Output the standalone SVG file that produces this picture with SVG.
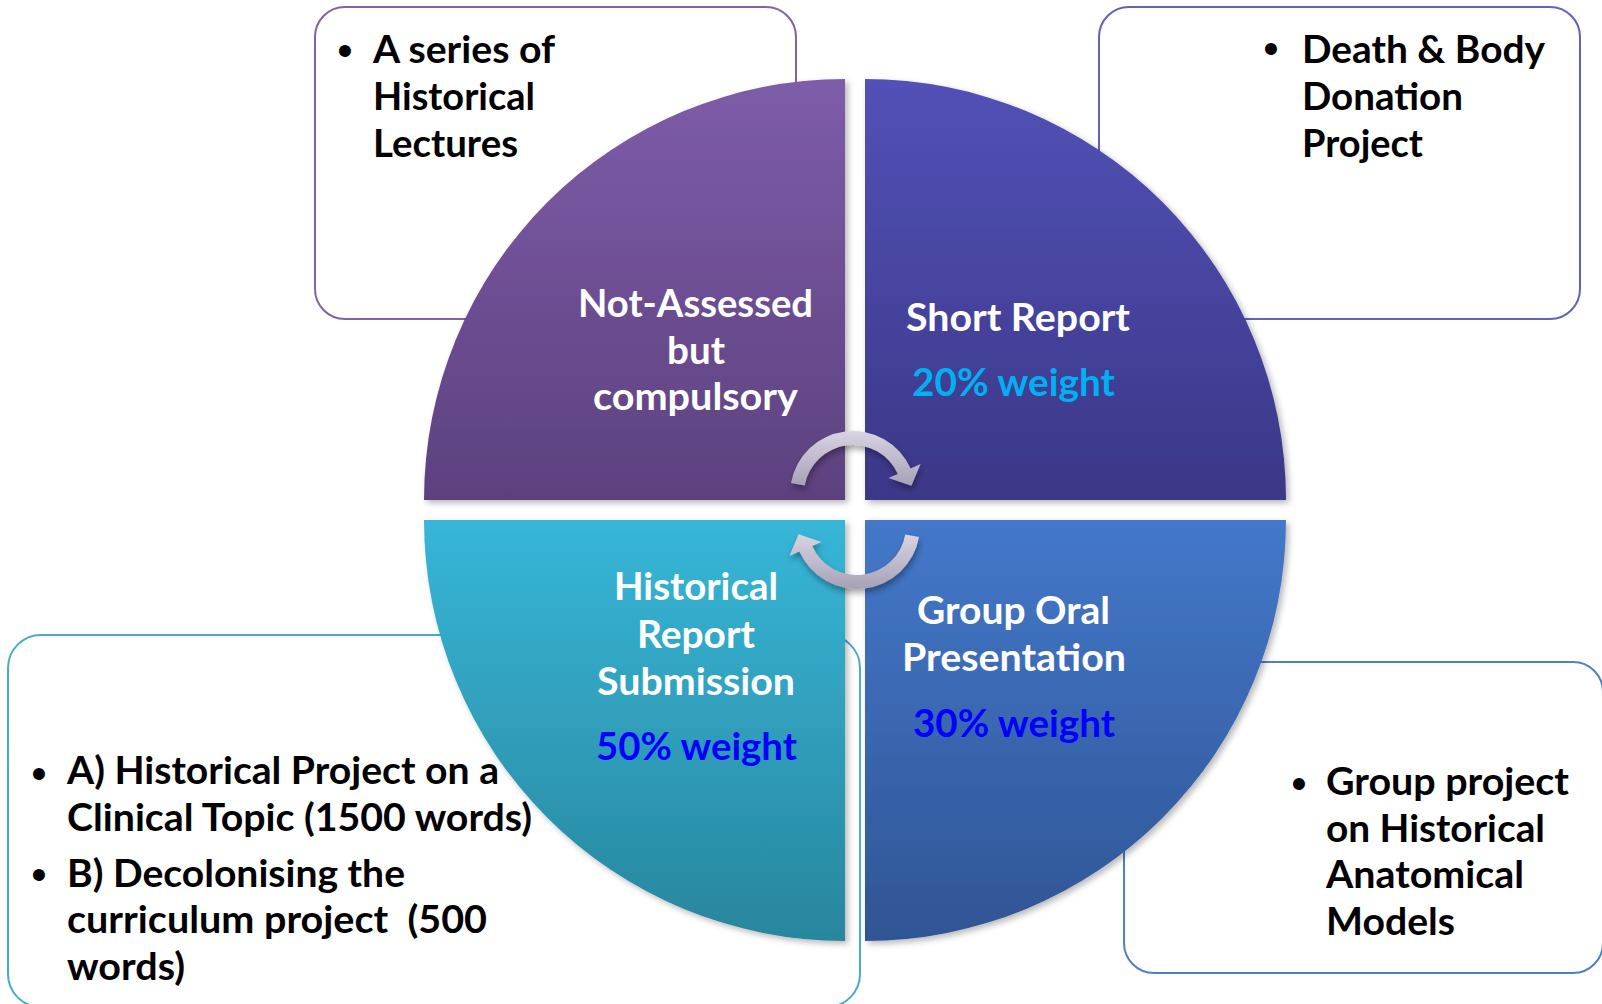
<svg xmlns="http://www.w3.org/2000/svg" width="1602" height="1004" viewBox="0 0 1602 1004">
<defs>
<style>
.box{fill:#ffffff;stroke-width:2}
.t{font-family:Lato,"Open Sans","Liberation Sans",sans-serif;font-weight:700;font-size:38.5px}
.blk{fill:#000000}
.wht{fill:#ffffff}
.cyan{fill:#00B0F0}
.blue{fill:#0000FF}
.bul{font-family:"Liberation Sans",Arial,sans-serif;font-size:44px;fill:#000000;text-anchor:middle}
</style>
<linearGradient id="gTL" x1="0" y1="0" x2="0" y2="1"><stop offset="0" stop-color="#7E5CA9"/><stop offset="1" stop-color="#5C417E"/></linearGradient>
<linearGradient id="gTR" x1="0" y1="0" x2="0" y2="1"><stop offset="0" stop-color="#5251B7"/><stop offset="1" stop-color="#3B3787"/></linearGradient>
<linearGradient id="gBL" x1="0" y1="0" x2="0" y2="1"><stop offset="0" stop-color="#37B6D8"/><stop offset="1" stop-color="#28869D"/></linearGradient>
<linearGradient id="gBR" x1="0" y1="0" x2="0" y2="1"><stop offset="0" stop-color="#4478CA"/><stop offset="1" stop-color="#2F5594"/></linearGradient>
<linearGradient id="gArr" x1="0" y1="0" x2="0" y2="1"><stop offset="0" stop-color="#D8D4E3"/><stop offset="1" stop-color="#A7A1B6"/></linearGradient>
<filter id="sh" x="-10%" y="-10%" width="125%" height="125%"><feDropShadow dx="3" dy="3" stdDeviation="3" flood-color="#000" flood-opacity="0.28"/></filter>
<filter id="ash" x="-20%" y="-20%" width="150%" height="160%"><feDropShadow dx="1" dy="4" stdDeviation="3" flood-color="#000" flood-opacity="0.35"/></filter>
</defs>

<g id="box-lectures">
<rect class="box" x="315" y="7" width="481" height="312" rx="30" stroke="#8064A2"/>
<text class="bul" x="345" y="66">•</text>
<text class="t blk" x="373" y="63" textLength="182" lengthAdjust="spacingAndGlyphs">A series of</text>
<text class="t blk" x="373" y="110" textLength="162" lengthAdjust="spacingAndGlyphs">Historical</text>
<text class="t blk" x="373" y="157" textLength="145" lengthAdjust="spacingAndGlyphs">Lectures</text>
</g>

<g id="box-death">
<rect class="box" x="1099" y="7" width="481" height="312" rx="30" stroke="#6262B8"/>
<text class="bul" x="1271" y="64">•</text>
<text class="t blk" x="1302" y="63" textLength="243" lengthAdjust="spacingAndGlyphs">Death &amp; Body</text>
<text class="t blk" x="1302" y="110" textLength="161" lengthAdjust="spacingAndGlyphs">Donation</text>
<text class="t blk" x="1302" y="157" textLength="121" lengthAdjust="spacingAndGlyphs">Project</text>
</g>

<g id="box-historical">
<rect class="box" x="8" y="635" width="852" height="372" rx="33" stroke="#4BACC6"/>
<text class="bul" x="39" y="789">•</text>
<text class="t blk" x="67" y="784" textLength="432" lengthAdjust="spacingAndGlyphs">A) Historical Project on a</text>
<text class="t blk" x="67" y="831" textLength="465" lengthAdjust="spacingAndGlyphs">Clinical Topic (1500 words)</text>
<text class="bul" x="39" y="890">•</text>
<text class="t blk" x="67" y="887" textLength="338" lengthAdjust="spacingAndGlyphs">B) Decolonising the</text>
<text class="t blk" x="67" y="933" textLength="420" lengthAdjust="spacingAndGlyphs" xml:space="preserve">curriculum project  (500</text>
<text class="t blk" x="67" y="980" textLength="118" lengthAdjust="spacingAndGlyphs">words)</text>
</g>

<g id="box-models">
<rect class="box" x="1124" y="662" width="479" height="311" rx="30" stroke="#4F7FC4"/>
<text class="bul" x="1299" y="799">•</text>
<text class="t blk" x="1326" y="795" textLength="243" lengthAdjust="spacingAndGlyphs">Group project</text>
<text class="t blk" x="1326" y="842" textLength="219" lengthAdjust="spacingAndGlyphs">on Historical</text>
<text class="t blk" x="1326" y="888" textLength="198" lengthAdjust="spacingAndGlyphs">Anatomical</text>
<text class="t blk" x="1326" y="935" textLength="129" lengthAdjust="spacingAndGlyphs">Models</text>
</g>

<g id="q-not-assessed">
<path d="M845,500 L424,500 A421,421 0 0 1 845,79 Z" fill="url(#gTL)" filter="url(#sh)"/>
<text class="t wht" x="578" y="317" textLength="235" lengthAdjust="spacingAndGlyphs">Not-Assessed</text>
<text class="t wht" x="667" y="364" textLength="58" lengthAdjust="spacingAndGlyphs">but</text>
<text class="t wht" x="593" y="410" textLength="205" lengthAdjust="spacingAndGlyphs">compulsory</text>
</g>

<g id="q-short-report">
<path d="M865,500 L865,79 A421,421 0 0 1 1286,500 Z" fill="url(#gTR)" filter="url(#sh)"/>
<text class="t wht" x="906" y="331" textLength="224" lengthAdjust="spacingAndGlyphs">Short Report</text>
<text class="t cyan" x="912" y="396" textLength="203" lengthAdjust="spacingAndGlyphs">20% weight</text>
</g>

<g id="q-historical-report">
<path d="M845,520 L845,941 A421,421 0 0 1 424,520 Z" fill="url(#gBL)" filter="url(#sh)"/>
<text class="t wht" x="614" y="600" textLength="164" lengthAdjust="spacingAndGlyphs">Historical</text>
<text class="t wht" x="637" y="648" textLength="118" lengthAdjust="spacingAndGlyphs">Report</text>
<text class="t wht" x="597" y="695" textLength="198" lengthAdjust="spacingAndGlyphs">Submission</text>
<text class="t blue" x="596" y="760" textLength="201" lengthAdjust="spacingAndGlyphs">50% weight</text>
</g>

<g id="q-group-oral">
<path d="M865,520 L1286,520 A421,421 0 0 1 865,941 Z" fill="url(#gBR)" filter="url(#sh)"/>
<text class="t wht" x="917" y="624" textLength="193" lengthAdjust="spacingAndGlyphs">Group Oral</text>
<text class="t wht" x="902" y="671" textLength="224" lengthAdjust="spacingAndGlyphs">Presentation</text>
<text class="t blue" x="913" y="737" textLength="202" lengthAdjust="spacingAndGlyphs">30% weight</text>
</g>

<g id="connectors" fill="url(#gArr)" filter="url(#ash)">
<path d="M790.96,483.06 A63,63 0 0 1 910.6,468.4 L920.6,463.9 L911.4,485.8 L888.6,478.1 L897.8,474.1 A49,49 0 0 0 804.74,485.49 Z"/>
<path d="M919.04,536.94 A63,63 0 0 1 799.4,551.6 L789.4,556.1 L798.6,534.2 L821.4,541.9 L812.2,545.9 A49,49 0 0 0 905.26,534.51 Z"/>
</g>
</svg>
